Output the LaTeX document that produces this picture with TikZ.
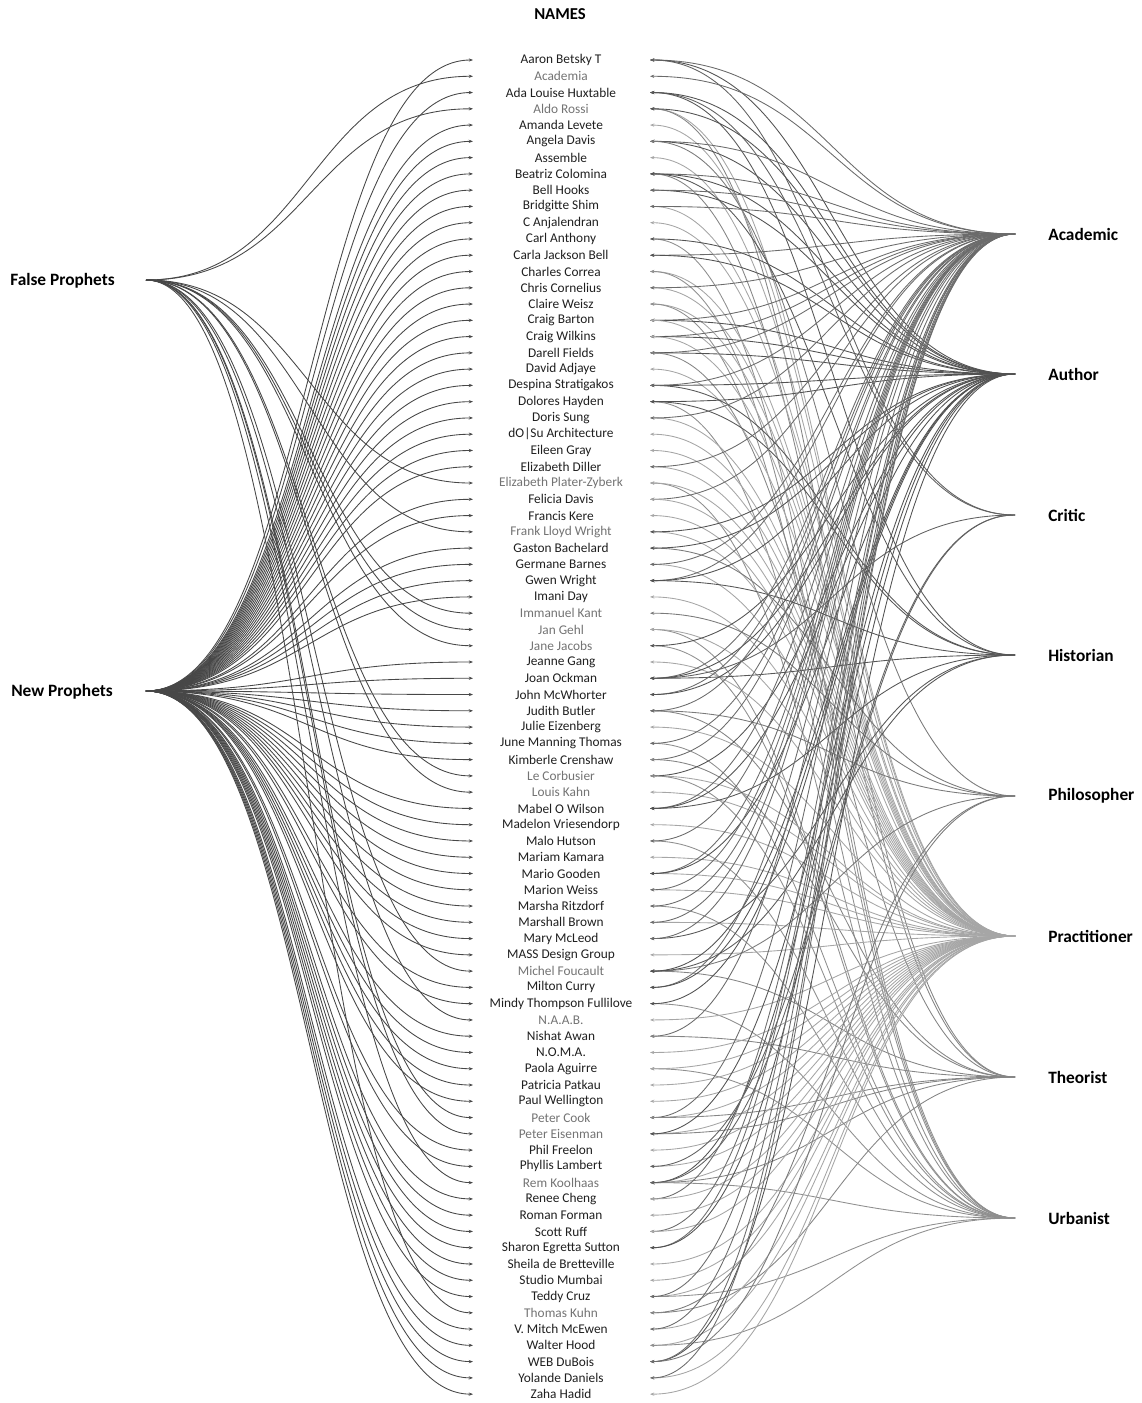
\documentclass[tikz,border=0pt]{standalone}
\usepackage{fontspec}
\setmainfont{Carlito}
\usetikzlibrary{arrows.meta,positioning}

\tikzset{
  np/.style={text=black!88},
  fp/.style={text=black!55},
  namelbl/.style={font=\fontsize{10}{12}\selectfont, inner sep=0pt},
  grouplbl/.style={font=\bfseries\fontsize{13}{15}\selectfont, inner sep=0pt},
  tip/.style={-{Stealth[length=3.2pt,width=2.4pt]}},
  leftlink/.style={tip, draw=black!72, line width=0.65pt},
  link acad/.style={tip, draw=black!58, line width=0.65pt},
  link auth/.style={tip, draw=black!68, line width=0.65pt},
  link crit/.style={tip, draw=black!62, line width=0.65pt},
  link hist/.style={tip, draw=black!66, line width=0.65pt},
  link phil/.style={tip, draw=black!52, line width=0.65pt},
  link prac/.style={tip, draw=black!35, line width=0.65pt},
  link theo/.style={tip, draw=black!48, line width=0.65pt},
  link urb/.style={tip, draw=black!44, line width=0.65pt}
}

\begin{document}
\begin{tikzpicture}[x=0.75pt,y=-0.75pt]
\useasboundingbox (0,0) rectangle (1142,1403);

% title
\node[grouplbl, font=\bfseries\fontsize{12.5}{14}\selectfont] (title) at (560,14) {NAMES};

% prophets
\node[grouplbl, anchor=west] (falselbl) at (10,281) {False Prophets};
\node[grouplbl, anchor=west] (newlbl) at (11,692) {New Prophets};
\coordinate (hubfp) at (146,280);
\coordinate (hubnp) at (146,691);

% categories
\foreach \c/\txt/\yy in {acad/Academic/234, auth/Author/374, crit/Critic/515,
  hist/Historian/655, phil/Philosopher/796, prac/Practitioner/936,
  theo/Theorist/1077, urb/Urbanist/1218}{
  \node[grouplbl, anchor=west] (cat\c) at (1048,\yy) {\txt};
  \coordinate (hub\c) at (1015,\yy);
}

% names
\foreach \nm/\grp [count=\i] in {Aaron Betsky T/np, Academia/fp,
  Ada Louise Huxtable/np, Aldo Rossi/fp, Amanda Levete/np, Angela Davis/np,
  Assemble/np, Beatriz Colomina/np, Bell Hooks/np, Bridgitte Shim/np,
  C Anjalendran/np, Carl Anthony/np, Carla Jackson Bell/np, Charles Correa/np,
  Chris Cornelius/np, Claire Weisz/np, Craig Barton/np, Craig Wilkins/np,
  Darell Fields/np, David Adjaye/np, Despina Stratigakos/np, Dolores Hayden/np,
  Doris Sung/np, dO|Su Architecture/np, Eileen Gray/np, Elizabeth Diller/np,
  Elizabeth Plater-Zyberk/fp, Felicia Davis/np, Francis Kere/np,
  Frank Lloyd Wright/fp, Gaston Bachelard/np, Germane Barnes/np, Gwen Wright/np,
  Imani Day/np, Immanuel Kant/fp, Jan Gehl/fp, Jane Jacobs/fp, Jeanne Gang/np,
  Joan Ockman/np, John McWhorter/np, Judith Butler/np, Julie Eizenberg/np,
  June Manning Thomas/np, Kimberle Crenshaw/np, Le Corbusier/fp, Louis Kahn/fp,
  Mabel O Wilson/np, Madelon Vriesendorp/np, Malo Hutson/np, Mariam Kamara/np,
  Mario Gooden/np, Marion Weiss/np, Marsha Ritzdorf/np, Marshall Brown/np,
  Mary McLeod/np, MASS Design Group/np, Michel Foucault/fp, Milton Curry/np,
  Mindy Thompson Fullilove/np, N.A.A.B./fp, Nishat Awan/np, N.O.M.A./np,
  Paola Aguirre/np, Patricia Patkau/np, Paul Wellington/np, Peter Cook/fp,
  Peter Eisenman/fp, Phil Freelon/np, Phyllis Lambert/np, Rem Koolhaas/fp,
  Renee Cheng/np, Roman Forman/np, Scott Ruff/np, Sharon Egretta Sutton/np,
  Sheila de Bretteville/np, Studio Mumbai/np, Teddy Cruz/np, Thomas Kuhn/fp,
  V. Mitch McEwen/np, Walter Hood/np, WEB DuBois/np, Yolande Daniels/np,
  Zaha Hadid/np}{
  \pgfmathsetmacro\yy{60+(\i-1)*16.27}
  \node[namelbl, \grp] (n\i) at (561,\yy) {\nm};
  \coordinate (l\i) at (473,\yy);
  \coordinate (r\i) at (650,\yy);
  \draw[leftlink] (hub\grp) .. controls +(163,0) and +(-163,0) .. (l\i);
}

% name -> category links
\foreach \i/\c in {1/acad,1/auth,1/crit, 2/acad, 3/crit,3/auth,3/hist,
  4/prac,4/theo,4/auth, 5/prac, 6/acad,6/auth,6/phil, 7/prac,
  8/acad,8/hist,8/theo,8/auth, 9/auth,9/acad, 10/prac,10/acad, 11/prac,
  12/urb,12/auth, 13/acad,13/auth, 14/prac,14/urb, 15/prac,15/acad,
  16/prac,16/urb, 17/acad,17/auth,17/prac, 18/acad,18/auth,18/prac,
  19/acad,19/auth,19/theo, 20/prac, 21/hist,21/auth,21/acad,
  22/hist,22/urb,22/auth, 23/prac,23/acad, 24/prac, 25/prac,
  26/prac,26/acad, 27/urb,27/prac, 28/acad,28/prac, 29/prac,
  30/prac,30/auth, 31/phil,31/auth, 32/prac,32/acad, 33/hist,33/acad,33/auth,
  34/prac, 35/phil, 36/urb,36/prac, 37/urb,37/auth, 38/prac,
  39/hist,39/crit,39/acad,39/auth, 40/acad,40/auth, 41/phil,41/theo,41/acad,
  42/prac, 43/urb,43/acad, 44/acad,44/theo, 45/prac,45/auth,45/urb,
  46/prac, 47/acad,47/hist,47/auth, 48/prac, 49/urb,49/acad, 50/prac,
  51/prac,51/acad,51/auth, 52/prac,52/acad, 53/urb,53/acad,
  54/prac,54/acad, 55/hist,55/acad, 56/prac,
  57/phil,57/theo,57/hist,57/auth, 58/acad,58/auth, 59/urb,59/auth,
  60/prac, 61/acad,61/theo, 62/prac, 63/urb,63/prac, 64/prac, 65/prac,
  66/prac,66/acad,66/theo, 67/prac,67/theo,67/auth, 68/prac,
  69/prac,69/crit, 70/prac,70/auth,70/theo,70/urb,70/crit,
  71/acad,71/prac, 72/prac, 73/acad,73/prac, 74/acad,74/auth,
  75/prac, 76/prac, 77/prac,77/urb,77/acad, 78/phil,78/theo,
  79/prac,79/acad, 80/prac,80/urb, 81/auth,81/phil,81/acad,
  82/prac,82/acad, 83/prac}{
  \draw[link \c] (hub\c) .. controls +(-182,0) and +(182,0) .. (r\i);
}

\end{tikzpicture}
\end{document}
